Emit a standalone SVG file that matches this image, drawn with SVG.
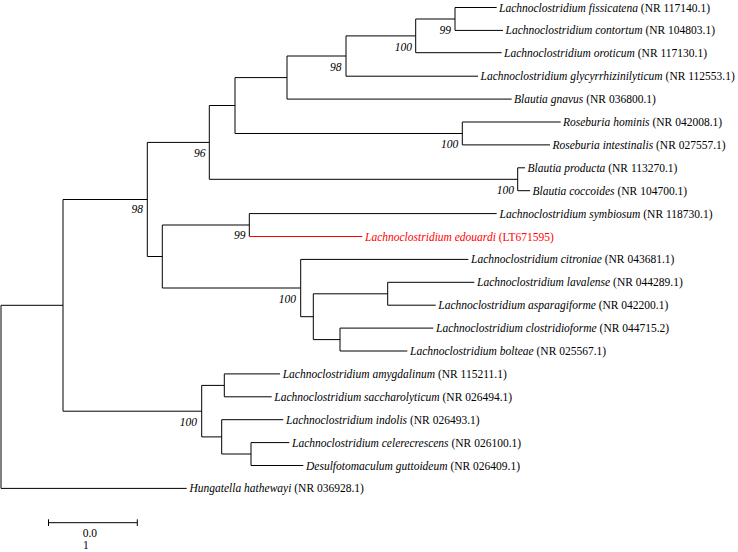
<svg xmlns="http://www.w3.org/2000/svg" width="738" height="552" viewBox="0 0 738 552">
<style>
text{font-family:"Liberation Serif","Times New Roman",serif;font-size:11.5px;fill:#000}
.i{font-style:italic}
.bs{font-style:italic;text-anchor:end}
.br{fill:none;stroke:#000;stroke-width:1}
.red{stroke:#ff0000}
.rt{fill:#ff0000}
</style>
<rect width="738" height="552" fill="#fff"/>
<g id="connectors">
<path class="br" d="M1,305.3V488.4M1,305.3H63M1,488.4H186.7"/>
<path class="br" d="M63,199.5V411.2M63,199.5H147.3M63,411.2H201.7"/>
<path class="br" d="M147.3,142.4V256.5M147.3,142.4H209.3M147.3,256.5H162.3"/>
<path class="br" d="M209.3,105.5V179.3M209.3,105.5H235M209.3,179.3H517.7"/>
<path class="br" d="M235,77.6V133.5M235,77.6H287M235,133.5H462.3"/>
<path class="br" d="M287,56V99.1M287,56H346M287,99.1H511.7"/>
<path class="br" d="M346,35.9V76.2M346,35.9H415.7M346,76.2H478"/>
<path class="br" d="M415.7,19V52.7M415.7,19H455M415.7,52.7H501.7"/>
<path class="br" d="M455,7.5V30.4M455,7.5H496.7M455,30.4H503"/>
<path class="br" d="M462.3,122V144.9M462.3,122H560.7M462.3,144.9H550"/>
<path class="br" d="M517.7,167.8V190.7M517.7,167.8H525M517.7,190.7H530"/>
<path class="br" d="M162.3,225V288M162.3,225H249.3M162.3,288H300.7"/>
<path class="br" d="M249.3,213.6V236.5M249.3,213.6H496.7"/>
<path class="br red" d="M249.3,236.5H362.3"/>
<path class="br" d="M300.7,259.4V316.7M300.7,259.4H468.3M300.7,316.7H313.3"/>
<path class="br" d="M313.3,293.8V339.6M313.3,293.8H387.7M313.3,339.6H340"/>
<path class="br" d="M387.7,282.3V305.2M387.7,282.3H474.3M387.7,305.2H435.7"/>
<path class="br" d="M340,328.1V351M340,328.1H433.3M340,351H407.3"/>
<path class="br" d="M201.7,385.4V436.9M201.7,385.4H224.3M201.7,436.9H221.7"/>
<path class="br" d="M224.3,373.9V396.8M224.3,373.9H280M224.3,396.8H271.7"/>
<path class="br" d="M221.7,419.7V454M221.7,419.7H283.3M221.7,454H251"/>
<path class="br" d="M251,442.6V465.5M251,442.6H289.3M251,465.5H303.3"/>
</g>
<g id="n_99a"><text class="bs" x="451" y="33.5">99</text></g>
<g id="n_100a"><text class="bs" x="412" y="50.7">100</text></g>
<g id="n_98a"><text class="bs" x="341.5" y="70.7">98</text></g>
<g id="n_100rose"><text class="bs" x="458.3" y="148">100</text></g>
<g id="n_100blau"><text class="bs" x="514" y="194">100</text></g>
<g id="n_96"><text class="bs" x="205.5" y="156.7">96</text></g>
<g id="n_98b"><text class="bs" x="143" y="213.3">98</text></g>
<g id="n_99b"><text class="bs" x="245.5" y="239">99</text></g>
<g id="n_100c"><text class="bs" x="296" y="302.7">100</text></g>
<g id="n_100d"><text class="bs" x="197" y="425.7">100</text></g>
<g id="leaf1"><text x="499" y="11.5"><tspan class="i">Lachnoclostridium fissicatena</tspan> (NR 117140.1)</text></g>
<g id="leaf2"><text x="505.5" y="34.4"><tspan class="i">Lachnoclostridium contortum</tspan> (NR 104803.1)</text></g>
<g id="leaf3"><text x="504" y="56.7"><tspan class="i">Lachnoclostridium oroticum</tspan> (NR 117130.1)</text></g>
<g id="leaf4"><text x="480.5" y="80.2"><tspan class="i">Lachnoclostridium glycyrrhizinilyticum</tspan> (NR 112553.1)</text></g>
<g id="leaf5"><text x="514" y="103.1"><tspan class="i">Blautia gnavus</tspan> (NR 036800.1)</text></g>
<g id="leaf6"><text x="563" y="126"><tspan class="i">Roseburia hominis</tspan> (NR 042008.1)</text></g>
<g id="leaf7"><text x="552.5" y="148.9"><tspan class="i">Roseburia intestinalis</tspan> (NR 027557.1)</text></g>
<g id="leaf8"><text x="527.5" y="171.8"><tspan class="i">Blautia producta</tspan> (NR 113270.1)</text></g>
<g id="leaf9"><text x="532.5" y="194.7"><tspan class="i">Blautia coccoides</tspan> (NR 104700.1)</text></g>
<g id="leaf10"><text x="499.5" y="217.6"><tspan class="i">Lachnoclostridium symbiosum</tspan> (NR 118730.1)</text></g>
<g id="leaf11"><text class="rt" x="365" y="240.5"><tspan class="i">Lachnoclostridium edouardi</tspan> (LT671595)</text></g>
<g id="leaf12"><text x="471" y="263.4"><tspan class="i">Lachnoclostridium citroniae</tspan> (NR 043681.1)</text></g>
<g id="leaf13"><text x="477" y="286.3"><tspan class="i">Lachnoclostridium lavalense</tspan> (NR 044289.1)</text></g>
<g id="leaf14"><text x="438.3" y="309.2"><tspan class="i">Lachnoclostridium asparagiforme</tspan> (NR 042200.1)</text></g>
<g id="leaf15"><text x="436" y="332.1"><tspan class="i">Lachnoclostridium clostridioforme</tspan> (NR 044715.2)</text></g>
<g id="leaf16"><text x="410" y="355"><tspan class="i">Lachnoclostridium bolteae</tspan> (NR 025567.1)</text></g>
<g id="leaf17"><text x="282.7" y="377.9"><tspan class="i">Lachnoclostridium amygdalinum</tspan> (NR 115211.1)</text></g>
<g id="leaf18"><text x="274.3" y="400.8"><tspan class="i">Lachnoclostridium saccharolyticum</tspan> (NR 026494.1)</text></g>
<g id="leaf19"><text x="286" y="423.7"><tspan class="i">Lachnoclostridium indolis</tspan> (NR 026493.1)</text></g>
<g id="leaf20"><text x="292" y="446.6"><tspan class="i">Lachnoclostridium celerecrescens</tspan> (NR 026100.1)</text></g>
<g id="leaf21"><text x="306" y="469.5"><tspan class="i">Desulfotomaculum guttoideum</tspan> (NR 026409.1)</text></g>
<g id="leaf22"><text x="189.5" y="492.4"><tspan class="i">Hungatella hathewayi</tspan> (NR 036928.1)</text></g>
<g id="scalebar">
<path class="br" d="M48.5,522.7H137.3M48.5,519.3V526M137.3,519.3V526"/>
<text x="82.7" y="536.7">0.0</text>
<text x="83" y="549">1</text>
</g>
</svg>
